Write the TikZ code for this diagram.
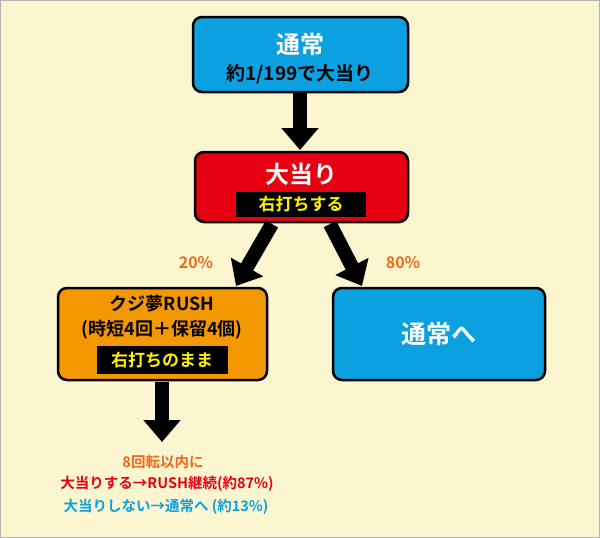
\documentclass[tikz,border=0pt]{standalone}
\usepackage{fontspec}
\setmainfont{Noto Sans CJK JP}[BoldFont={Noto Sans CJK JP Bold}]
\newfontfamily\cjkb{Noto Sans CJK JP Bold}
\begin{document}
\definecolor{bg}{HTML}{FBF6D0}
\definecolor{cblue}{HTML}{0BA0E0}
\definecolor{cred}{HTML}{E60012}
\definecolor{corange}{HTML}{F39800}
\definecolor{ctext}{HTML}{EE6A1E}
\definecolor{cyel}{HTML}{FFF200}
\begin{tikzpicture}[x=1pt,y=-1pt,font=\cjkb,
  box/.style={draw=black,line width=2.5pt,rounded corners=9pt,minimum width=#1},
  band/.style={fill=black,text=cyel,font=\cjkb\fontsize{17}{17}\selectfont,inner xsep=6pt,inner ysep=2pt},
  arr/.style={line width=14pt,-{Triangle[width=36pt,length=22pt]}}]
\usetikzlibrary{arrows.meta}
\useasboundingbox (0,0) rectangle (600,538);
\fill[bg] (0,0) rectangle (600,538);
\draw[gray!60,line width=1pt] (0.5,0.5) rectangle (599.5,537.5);
% boxes
\draw[box,fill=cblue] (193,17) rectangle (408,92);
\node[white,font=\cjkb\fontsize{24}{24}\selectfont] (t1) at (300,44) {通常};
\node[font=\cjkb\fontsize{19}{19}\selectfont] (t1b) at (300,74) {約1/199で大当り};
\draw[box,fill=cred] (195,152) rectangle (408,222);
\node[white,font=\cjkb\fontsize{24}{24}\selectfont] (t2) at (301,174) {大当り};
\node[band,minimum width=130pt,minimum height=25pt] (t2b) at (301,204) {右打ちする};
\draw[box,fill=corange] (58,288) rectangle (267,380);
\node[font=\cjkb\fontsize{18}{18}\selectfont] (t3) at (162,304) {クジ夢RUSH};
\node[font=\cjkb\fontsize{18}{18}\selectfont] (t3b) at (162,330) {(時短4回＋保留4個)};
\node[band,minimum width=131pt,minimum height=28pt] (t3c) at (162,360) {右打ちのまま};
\draw[box,fill=cblue] (333,288) rectangle (545,380);
\node[white,font=\cjkb\fontsize{25}{25}\selectfont] (t4) at (439,334) {通常へ};
% arrows
\coordinate (a1s) at (300,93); \coordinate (a1e) at (300,150);
\draw[arr] (a1s) -- (a1e);
\coordinate (a2s) at (272,224); \coordinate (a2e) at (236,286);
\draw[arr] (a2s) -- (a2e);
\coordinate (a3s) at (330,224); \coordinate (a3e) at (362,286);
\draw[arr] (a3s) -- (a3e);
\coordinate (a4s) at (162,382); \coordinate (a4e) at (162,442);
\draw[arr] (a4s) -- (a4e);
\node[text=ctext,font=\cjkb\fontsize{16}{16}\selectfont] (p20) at (196,263) {20\%};
\node[text=ctext,font=\cjkb\fontsize{16}{16}\selectfont] (p80) at (403,263) {80\%};
\node[text=ctext,font=\cjkb\fontsize{14.5}{14.5}\selectfont] (l1) at (163,462) {8回転以内に};
\node[text=cred,font=\cjkb\fontsize{14.5}{14.5}\selectfont] (l2) at (167,484) {大当りする→RUSH継続(約87\%)};
\node[text=cblue,font=\cjkb\fontsize{14.5}{14.5}\selectfont] (l3) at (166,507) {大当りしない→通常へ (約13\%)};
\end{tikzpicture}
\end{document}
